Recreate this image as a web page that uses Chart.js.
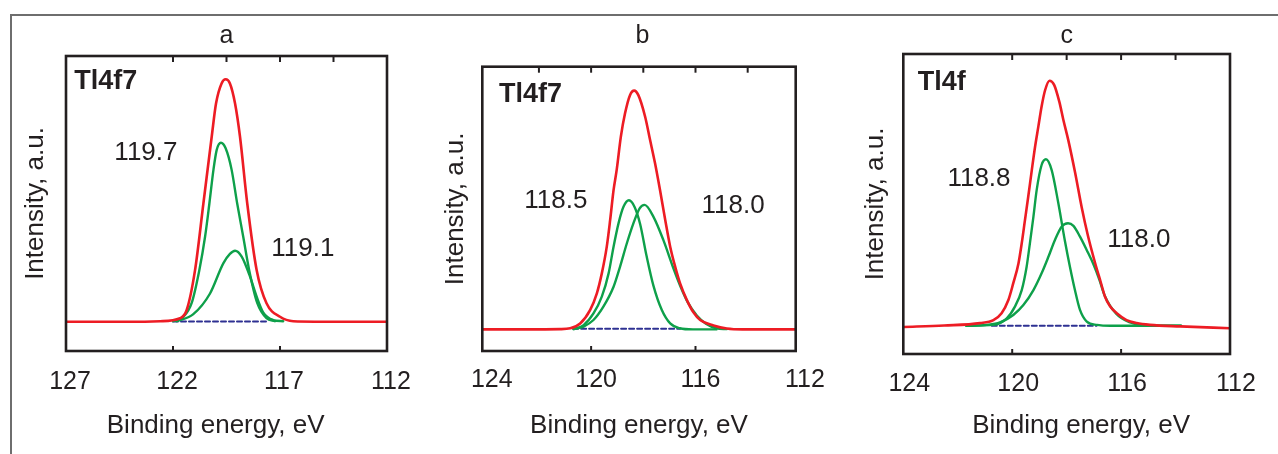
<!DOCTYPE html>
<html>
<head>
<meta charset="utf-8">
<title>Tl4f spectra</title>
<script src="https://cdn.jsdelivr.net/npm/chart.js@4.4.1/dist/chart.umd.min.js"></script>
<style>
  body { margin: 0; background: #fff; }
  #page { position: relative; width: 1278px; height: 454px; overflow: hidden; background: #fff; }
  #rule { position: absolute; left: 10px; top: 14px; width: 1290px; height: 470px;
          border-top: 2px solid #6e6e6e; border-left: 2px solid #6e6e6e; }
  canvas { position: absolute; top: 16px; }
</style>
</head>
<body>
<div id="page">
  <div id="rule"></div>
  <canvas id="panelA" width="404" height="438" style="left:16px"></canvas>
  <canvas id="panelB" width="405" height="438" style="left:425px"></canvas>
  <canvas id="panelC" width="433" height="438" style="left:845px"></canvas>
</div>
<script>
// ---- panel a : Tl4f7, peaks 119.7 / 119.1 ----
const aTicks = [127, 122, 117, 112];
const aTopMarks = [122, 119.5, 117, 114.5];
const aBottomMarks = [122, 117];
const aSum = [[127, 9.9], [124, 9.9], [122.6, 10.1], [121.67, 11.1], [121.36, 13.9], [120.97, 27.4],
  [120.58, 50.0], [120.19, 72.7], [119.99, 83.9], [119.73, 90.7], [119.54, 92.1], [119.34, 90.7],
  [119.10, 83.9], [118.87, 72.7], [118.53, 50.0], [118.09, 27.4], [117.63, 16.2], [117.00, 11.6],
  [116.38, 10.1], [114, 9.9], [112, 9.9]];
const aPeak197 = [[122.0, 10.1], [121.51, 11.6], [121.13, 16.2], [120.77, 27.4], [120.50, 38.8],
  [120.30, 50.0], [120.11, 61.4], [119.96, 68.1], [119.76, 70.6], [119.54, 68.7], [119.26, 61.4],
  [119.00, 50.0], [118.72, 38.8], [118.44, 27.4], [118.06, 16.2], [117.63, 11.1], [117.24, 10.1]];
const aPeak191 = [[121.82, 10.1], [121.05, 12.5], [120.27, 19.5], [119.65, 29.7], [119.34, 32.9],
  [119.10, 34.0], [118.79, 32.0], [118.40, 25.2], [118.09, 18.4], [117.78, 13.0], [117.32, 10.5],
  [116.85, 10.1]];
const aBaseline = [[122.0, 10.0], [117.55, 10.0]];
const aLabels = [['Tl4f7', 126.61, 88.7, true], ['119.7', 124.74, 64.7, false], ['119.1', 117.41, 32.2, false]];

// ---- panel b : Tl4f7, peaks 118.5 / 118.0 ----
const bTicks = [124, 120, 116, 112];
const bTopMarks = [122, 120, 118, 116, 114];
const bBottomMarks = [120, 116];
const bSum = [[124.17, 7.6], [122.5, 7.6], [121.19, 7.7], [120.80, 8.0], [120.42, 9.7], [120.04, 14.4],
  [119.78, 20.3], [119.59, 27.3], [119.40, 36.7], [119.27, 46.1], [119.14, 56.6], [119.02, 63.7],
  [118.86, 75.4], [118.70, 83.6], [118.51, 90.0], [118.35, 91.6], [118.19, 90.0], [117.93, 82.4],
  [117.74, 74.2], [117.55, 66.0], [117.36, 56.6], [117.16, 46.1], [116.97, 36.7], [116.78, 29.7],
  [116.59, 23.8], [116.33, 17.9], [116.08, 13.6], [115.82, 10.9], [115.31, 9.0], [114.80, 7.9],
  [114.2, 7.6], [112.16, 7.6]];
const bPeak185 = [[120.67, 7.7], [120.29, 9.1], [119.91, 13.2], [119.59, 19.1], [119.33, 27.3],
  [119.14, 36.7], [118.95, 44.9], [118.76, 50.7], [118.55, 53.0], [118.33, 50.6], [118.12, 44.6],
  [117.87, 33.2], [117.61, 22.9], [117.29, 14.4], [116.97, 9.7], [116.6, 8.0], [116.1, 7.6],
  [115.2, 7.6]];
const bPeak180 = [[120.67, 7.7], [120.29, 8.6], [119.91, 10.9], [119.53, 15.6], [119.14, 22.6],
  [118.89, 29.7], [118.63, 37.9], [118.38, 44.9], [118.14, 50.2], [117.95, 51.4], [117.61, 47.2],
  [117.23, 39.0], [116.85, 29.2], [116.58, 22.8], [116.30, 17.2], [115.95, 12.5], [115.60, 9.6],
  [115.2, 8.0], [114.8, 7.7]];
const bBaseline = [[120.69, 7.8], [116.59, 7.8]];
const bLabels = [['Tl4f7', 123.53, 87.7, true], ['118.5', 122.56, 50.2, false], ['118.0', 115.77, 48.4, false]];

// ---- panel c : Tl4f, peaks 118.8 / 118.0 ----
const cTicks = [124, 120, 116, 112];
const cTopMarks = [120, 118, 116, 114];
const cBottomMarks = [120, 116];
const cSum = [[124, 9.0], [122.5, 9.5], [121.18, 10.3], [120.69, 11.3], [120.39, 13.6], [120.14, 18.0],
  [119.96, 23.6], [119.77, 30.2], [119.65, 36.9], [119.53, 44.7], [119.41, 52.5], [119.28, 61.3],
  [119.16, 69.1], [119.04, 75.8], [118.92, 82.5], [118.79, 88.0], [118.63, 91.1], [118.46, 89.7],
  [118.27, 84.1], [118.12, 78.0], [117.94, 71.3], [117.69, 60.5], [117.45, 49.0], [117.22, 39.5],
  [116.96, 30.5], [116.75, 24.0], [116.59, 19.1], [116.40, 15.8], [116.16, 13.6], [115.80, 11.3],
  [115.43, 10.3], [114.94, 9.7], [113.83, 9.2], [112, 8.6]];
const cPeak188 = [[121.67, 9.4], [120.69, 9.7], [120.20, 11.9], [119.90, 15.8], [119.65, 21.3],
  [119.47, 29.1], [119.35, 36.9], [119.22, 45.8], [119.10, 54.7], [118.92, 63.0], [118.76, 64.9],
  [118.55, 61.3], [118.31, 50.5], [118.06, 37.5], [117.88, 29.1], [117.70, 21.5], [117.51, 14.7],
  [117.26, 10.8], [116.88, 9.7], [116.4, 9.4], [113.8, 9.4]];
const cPeak180 = [[121.7, 9.4], [120.94, 9.7], [120.45, 10.5], [119.96, 13.0], [119.59, 16.3],
  [119.22, 21.3], [118.92, 26.9], [118.67, 32.4], [118.43, 38.0], [118.18, 42.5], [117.95, 43.6],
  [117.75, 42.7], [117.51, 39.1], [117.26, 34.6], [117.02, 30.0], [116.80, 24.8], [116.61, 19.6],
  [116.18, 13.4], [115.70, 10.6], [115.0, 9.5], [113.8, 9.4]];
const cBaseline = [[120.75, 9.4], [116.9, 9.4]];
const cLabels = [['Tl4f', 123.47, 88.0, true], ['118.8', 122.38, 56.1, false], ['118.0', 116.51, 35.8, false]];

const INK = '#231f20';
const RED = '#ed1c24';
const GREEN = '#0ea04a';
const BLUE = '#2e3192';
const FONT = '"Liberation Sans", Arial, sans-serif';

Chart.defaults.font.family = FONT;
Chart.defaults.color = INK;

function toXY(pairs) {
    return pairs.map(p => ({ x: p[0], y: p[1] }));
}

// box, inner tick marks and peak labels
const framePlugin = {
    id: 'frame',
    afterDatasetsDraw(chart, args, opts) {
        const { ctx, chartArea } = chart;
        const x = chart.scales.x, y = chart.scales.y;
        ctx.save();
        ctx.strokeStyle = INK;
        ctx.lineWidth = 2;
        opts.top.forEach(v => {
            const px = x.getPixelForValue(v);
            ctx.beginPath(); ctx.moveTo(px, chartArea.top); ctx.lineTo(px, chartArea.top + 6); ctx.stroke();
        });
        opts.bottom.forEach(v => {
            const px = x.getPixelForValue(v);
            ctx.beginPath(); ctx.moveTo(px, chartArea.bottom); ctx.lineTo(px, chartArea.bottom - 5); ctx.stroke();
        });
        ctx.lineWidth = 2.6;
        ctx.strokeRect(chartArea.left, chartArea.top, chartArea.right - chartArea.left, chartArea.bottom - chartArea.top);

        ctx.fillStyle = INK;
        ctx.textAlign = 'left';
        ctx.textBaseline = 'alphabetic';
        opts.labels.forEach(l => {
            ctx.font = l[3] ? 'bold 27px ' + FONT : '26px ' + FONT;
            ctx.fillText(l[0], x.getPixelForValue(l[1]), y.getPixelForValue(l[2]));
        });
        ctx.restore();
    }
};

function makePanel(id, p) {
    return new Chart(document.getElementById(id), {
        type: 'line',
        data: {
            datasets: [
                { data: toXY(p.sum), borderColor: RED, borderWidth: 2.6 },
                { data: toXY(p.fit1), borderColor: GREEN, borderWidth: 2.4 },
                { data: toXY(p.fit2), borderColor: GREEN, borderWidth: 2.4 },
                { data: toXY(p.base), borderColor: BLUE, borderWidth: 2, borderDash: [5, 3], cubicInterpolationMode: 'default', tension: 0 }
            ]
        },
        options: {
            responsive: false,
            animation: false,
            events: [],
            elements: {
                point: { radius: 0 },
                line: { cubicInterpolationMode: 'monotone', fill: false, borderJoinStyle: 'round', borderCapStyle: 'round' }
            },
            layout: { padding: { left: 0, top: 0, right: p.padRight, bottom: 0 } },
            plugins: {
                legend: { display: false },
                tooltip: { enabled: false },
                title: {
                    display: true, text: p.title, fullSize: false, color: INK,
                    font: { size: 25, weight: 'normal' },
                    padding: { top: p.titleTop, bottom: p.titleBottom }
                },
                frame: { top: p.topMarks, bottom: p.bottomMarks, labels: p.labels }
            },
            scales: {
                x: {
                    type: 'linear', reverse: true, min: p.min, max: p.max,
                    grid: { display: false, drawTicks: false },
                    border: { display: false },
                    afterBuildTicks: s => { s.ticks = p.ticks.map(v => ({ value: v })); },
                    afterFit: s => { s.height = p.xH; s.paddingLeft = 0; s.paddingRight = 0; },
                    ticks: {
                        autoSkip: false, maxRotation: 0, padding: p.tickPad, labelOffset: p.labelOffset,
                        font: { size: 25 }, color: INK, callback: v => String(v)
                    },
                    title: {
                        display: true, text: p.xTitle, color: INK,
                        font: { size: 26 }, padding: { top: 0, bottom: p.xTitlePad }
                    }
                },
                y: {
                    min: 0, max: 100,
                    grid: { display: false, drawTicks: false },
                    border: { display: false },
                    ticks: { display: false },
                    afterFit: s => { s.width = p.yW; s.paddingTop = 0; s.paddingBottom = 0; },
                    title: {
                        display: true, text: 'Intensity, a.u.', color: INK,
                        font: { size: 26 }, padding: { top: p.yTitlePad, bottom: 0 }
                    }
                }
            }
        },
        plugins: [framePlugin]
    });
}

// the axis titles are not centred under the boxes in the original, spaces nudge them
makePanel('panelA', {
    title: 'a', xTitle: 'Binding energy, eV   ', sum: aSum, fit1: aPeak197, fit2: aPeak191, base: aBaseline,
    ticks: aTicks, topMarks: aTopMarks, bottomMarks: aBottomMarks, labels: aLabels,
    min: 112, max: 127, padRight: 33, yW: 50, xH: 103,
    titleTop: 5, titleBottom: 5, tickPad: 16, xTitlePad: 12.8, yTitlePad: 4.3, labelOffset: 4
});
makePanel('panelB', {
    title: ' b', xTitle: 'Binding energy, eV', sum: bSum, fit1: bPeak185, fit2: bPeak180, base: bBaseline,
    ticks: bTicks, topMarks: bTopMarks, bottomMarks: bBottomMarks, labels: bLabels,
    min: 112.16, max: 124.17, padRight: 34.3, yW: 57.3, xH: 103,
    titleTop: 5.3, titleBottom: 15.4, tickPad: 14, xTitlePad: 12.1, yTitlePad: 15.3, labelOffset: 5
});
makePanel('panelC', {
    title: 'c', xTitle: '    Binding energy, eV', sum: cSum, fit1: cPeak188, fit2: cPeak180, base: cBaseline,
    ticks: cTicks, topMarks: cTopMarks, bottomMarks: cBottomMarks, labels: cLabels,
    min: 112, max: 124, padRight: 48, yW: 58.3, xH: 100,
    titleTop: 5.3, titleBottom: 2.7, tickPad: 15, xTitlePad: 12.1, yTitlePad: 15.3, labelOffset: 6
});
</script>
</body>
</html>
